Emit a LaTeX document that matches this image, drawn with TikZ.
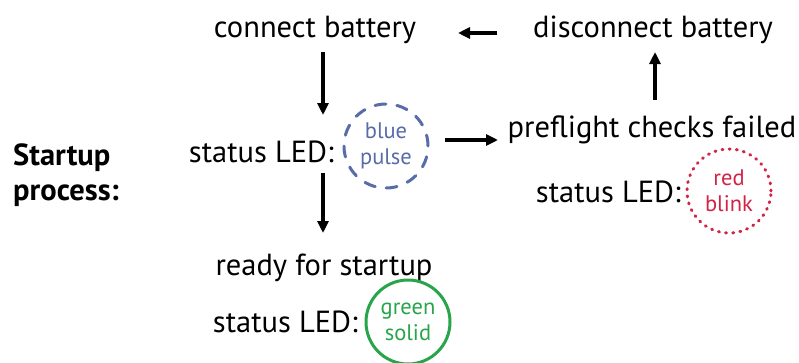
\documentclass[tikz,border=0pt]{standalone}
\usepackage{fontspec}
\setmainfont{PT Sans}
\usetikzlibrary{arrows.meta}
\definecolor{ledblue}{RGB}{88,108,170}
\definecolor{ledred}{RGB}{208,36,70}
\definecolor{ledgreen}{RGB}{40,165,75}
\tikzset{
  lbl/.style={inner sep=0pt, font=\fontsize{30.5}{32}\selectfont},
  arr/.style={line width=3.4pt, -{Triangle[length=12pt,width=11pt]}},
  led/.style={circle, minimum size=84pt, inner sep=0pt, line width=3pt, align=center,
              font=\fontsize{22.5}{26}\selectfont},
}
\begin{document}
\begin{tikzpicture}[x=1pt,y=-1pt]
\useasboundingbox[fill=white] (0,0) rectangle (799,362);
\node[lbl] (cb) at (315,30) {connect battery};
\node[lbl] (db) at (653,30) {disconnect battery};
\node[lbl, anchor=east] (s1) at (334,152) {status LED:};
\node[led, draw=ledblue, line cap=round, dash pattern=on 11pt off 11pt, text=ledblue] (c1) at (386,146) {blue\\pulse};
\node[lbl] (pf) at (652,130) {preflight checks failed};
\node[lbl, anchor=east] (s2) at (681,192) {status LED:};
\node[led, draw=ledred, line cap=round, dash pattern=on 1pt off 6.2pt, text=ledred] (c2) at (729,191) {red\\blink};
\node[lbl] (rs) at (324,268) {ready for startup};
\node[lbl, anchor=east] (s3) at (358,322) {status LED:};
\node[led, draw=ledgreen, text=ledgreen] (c3) at (408,322) {green\\solid};
\node[lbl, font=\fontsize{30.5}{35}\selectfont\bfseries, align=left, anchor=west] (sp) at (13,175) {Startup\\process:};
\draw[arr] (497,33) coordinate (a1s) -- (458,33) coordinate (a1e);
\draw[arr] (323,52) coordinate (a2s) -- (323,115) coordinate (a2e);
\draw[arr] (655,100) coordinate (a3s) -- (655,52) coordinate (a3e);
\draw[arr] (445,140) coordinate (a4s) -- (498,140) coordinate (a4e);
\draw[arr] (323,173) coordinate (a5s) -- (323,233) coordinate (a5e);
\end{tikzpicture}
\end{document}
